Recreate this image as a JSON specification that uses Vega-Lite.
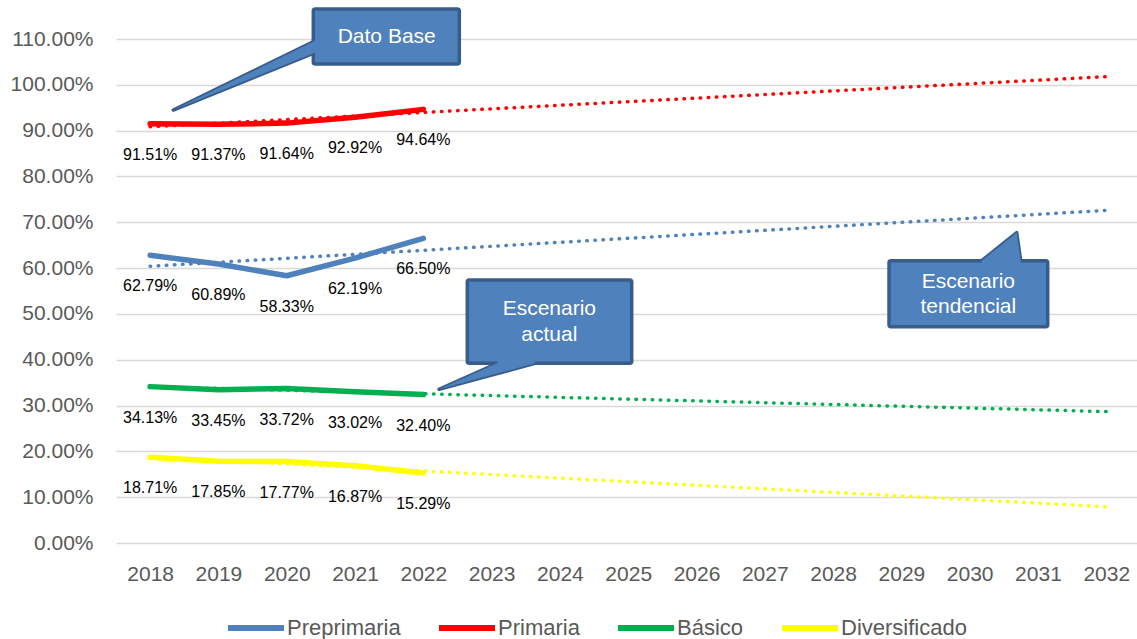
{
  "$schema": "https://vega.github.io/schema/vega-lite/v6.json",
  "width": 1021,
  "height": 504,
  "autosize": {"type": "none"},
  "padding": {"left": 116, "top": 39, "right": 0, "bottom": 96},
  "config": {"view": {"stroke": null}, "font": "Liberation Sans"},
  "datasets": {
    "actual": [
      {"serie": "Preprimaria", "year": 2018, "value": 0.6279},
      {"serie": "Preprimaria", "year": 2019, "value": 0.6089},
      {"serie": "Preprimaria", "year": 2020, "value": 0.5833},
      {"serie": "Preprimaria", "year": 2021, "value": 0.6219},
      {"serie": "Preprimaria", "year": 2022, "value": 0.6650},
      {"serie": "Primaria", "year": 2018, "value": 0.9151},
      {"serie": "Primaria", "year": 2019, "value": 0.9137},
      {"serie": "Primaria", "year": 2020, "value": 0.9164},
      {"serie": "Primaria", "year": 2021, "value": 0.9292},
      {"serie": "Primaria", "year": 2022, "value": 0.9464},
      {"serie": "Básico", "year": 2018, "value": 0.3413},
      {"serie": "Básico", "year": 2019, "value": 0.3345},
      {"serie": "Básico", "year": 2020, "value": 0.3372},
      {"serie": "Básico", "year": 2021, "value": 0.3302},
      {"serie": "Básico", "year": 2022, "value": 0.3240},
      {"serie": "Diversificado", "year": 2018, "value": 0.1871},
      {"serie": "Diversificado", "year": 2019, "value": 0.1785},
      {"serie": "Diversificado", "year": 2020, "value": 0.1777},
      {"serie": "Diversificado", "year": 2021, "value": 0.1687},
      {"serie": "Diversificado", "year": 2022, "value": 0.1529}
    ],
    "trend": [
      {"serie": "Preprimaria", "year": 2018, "value": 0.6040},
      {"serie": "Preprimaria", "year": 2032, "value": 0.7260},
      {"serie": "Primaria", "year": 2018, "value": 0.9085},
      {"serie": "Primaria", "year": 2032, "value": 1.0179},
      {"serie": "Básico", "year": 2018, "value": 0.3412},
      {"serie": "Básico", "year": 2032, "value": 0.2868},
      {"serie": "Diversificado", "year": 2018, "value": 0.1886},
      {"serie": "Diversificado", "year": 2032, "value": 0.0791}
    ],
    "boxes": [
      {"note": "base", "x": 2020.389, "x2": 2022.527, "y": 1.1655, "y2": 1.0454},
      {"note": "actual", "x": 2022.644, "x2": 2025.051, "y": 0.5740, "y2": 0.3922},
      {"note": "tendencial", "x": 2028.819, "x2": 2031.1425, "y": 0.61612, "y2": 0.47208}
    ],
    "pointers": [
      {"note": "base", "x": 2018.339, "y": 0.9450, "y2": 0.9450},
      {"note": "base", "x": 2020.506, "y": 1.1026, "y2": 1.0758},
      {"note": "actual", "x": 2022.230, "y": 0.33545, "y2": 0.33545},
      {"note": "actual", "x": 2023.083, "y": 0.39220, "y2": 0.36993},
      {"note": "actual", "x": 2023.1125, "y": 0.41031, "y2": 0.37103},
      {"note": "actual", "x": 2023.635, "y": 0.41031, "y2": 0.39220},
      {"note": "tendencial", "x": 2030.176, "y": 0.61612, "y2": 0.60019},
      {"note": "tendencial", "x": 2030.6886, "y": 0.67723, "y2": 0.60019},
      {"note": "tendencial", "x": 2030.7472, "y": 0.61612, "y2": 0.60019}
    ],
    "notes": [
      {"label": "Dato Base", "x": 2021.464, "y": 1.1050},
      {"label": "Escenario", "x": 2023.845, "y": 0.51005},
      {"label": "actual", "x": 2023.845, "y": 0.45396},
      {"label": "Escenario", "x": 2029.980, "y": 0.57029},
      {"label": "tendencial", "x": 2029.980, "y": 0.51441}
    ]
  },
  "encoding": {
    "x": {
      "field": "year", "type": "quantitative",
      "scale": {"domain": [2017.5, 2032.45], "nice": false, "zero": false},
      "axis": {
        "title": null, "values": [2018,2019,2020,2021,2022,2023,2024,2025,2026,2027,2028,2029,2030,2031,2032],
        "format": "d", "grid": false, "ticks": false, "domain": false,
        "labelFontSize": 21, "labelColor": "#595959", "labelPadding": 20,
        "labelFlush": false, "labelOverlap": false
      }
    },
    "y": {
      "field": "value", "type": "quantitative",
      "scale": {"domain": [0, 1.1], "nice": false},
      "axis": {
        "title": null, "values": [0,0.1,0.2,0.3,0.4,0.5,0.6,0.7,0.8,0.9,1.0,1.1],
        "format": ".2%", "grid": true, "gridColor": "#D9D9D9", "gridWidth": 1.5,
        "ticks": false, "domain": false,
        "labelFontSize": 21, "labelColor": "#595959", "labelPadding": 23
      }
    }
  },
  "layer": [
    {
      "data": {"name": "actual"},
      "mark": {"type": "line", "strokeWidth": 5.5, "strokeCap": "round", "strokeJoin": "round"},
      "encoding": {
        "color": {
          "field": "serie", "type": "nominal",
          "scale": {"domain": ["Preprimaria", "Primaria", "Básico", "Diversificado"], "range": ["#4F81BD", "#FF0000", "#00B050", "#FFFF00"]},
          "legend": {
            "title": null, "orient": "none", "legendX": 109, "legendY": 558, "direction": "horizontal",
            "symbolType": "stroke", "symbolStrokeWidth": 6, "symbolSize": 3136,
            "labelFontSize": 22, "labelColor": "#595959", "labelOffset": 0, "columnPadding": 26, "padding": 0
          }
        }
      }
    },
    {
      "data": {"name": "trend"},
      "mark": {"type": "line", "strokeWidth": 3.5, "strokeCap": "round", "strokeDash": [0.5, 7.6]},
      "encoding": {
        "color": {"field": "serie", "type": "nominal", "legend": null}
      }
    },
    {
      "data": {"name": "actual"},
      "mark": {"type": "text", "dy": 31, "fontSize": 16, "color": "#000000", "align": "center", "baseline": "middle"},
      "encoding": {
        "text": {"field": "value", "type": "quantitative", "format": ".2%"}
      }
    },
    {
      "data": {"name": "pointers"},
      "mark": {"type": "area", "orient": "vertical", "fill": "#4F81BD", "stroke": "#385D8A", "strokeWidth": 3.5, "strokeJoin": "round", "fillOpacity": 1},
      "encoding": {
        "x": {"field": "x", "type": "quantitative"},
        "y": {"field": "y", "type": "quantitative"},
        "y2": {"field": "y2"},
        "detail": {"field": "note", "type": "nominal"}
      }
    },
    {
      "data": {"name": "boxes"},
      "mark": {"type": "rect", "fill": "#4F81BD", "stroke": "#385D8A", "strokeWidth": 3.5, "cornerRadius": 2},
      "encoding": {
        "x": {"field": "x", "type": "quantitative"},
        "x2": {"field": "x2"},
        "y": {"field": "y", "type": "quantitative"},
        "y2": {"field": "y2"}
      }
    },
    {
      "data": {"name": "pointers"},
      "mark": {"type": "area", "orient": "vertical", "fill": "#4F81BD", "fillOpacity": 1, "strokeWidth": 0},
      "encoding": {
        "x": {"field": "x", "type": "quantitative"},
        "y": {"field": "y", "type": "quantitative"},
        "y2": {"field": "y2"},
        "detail": {"field": "note", "type": "nominal"}
      }
    },
    {
      "data": {"name": "notes"},
      "mark": {"type": "text", "color": "#FFFFFF", "fontSize": 21, "font": "Liberation Sans", "align": "center", "baseline": "middle"},
      "encoding": {
        "x": {"field": "x", "type": "quantitative"},
        "y": {"field": "y", "type": "quantitative"},
        "text": {"field": "label", "type": "nominal"}
      }
    }
  ]
}
